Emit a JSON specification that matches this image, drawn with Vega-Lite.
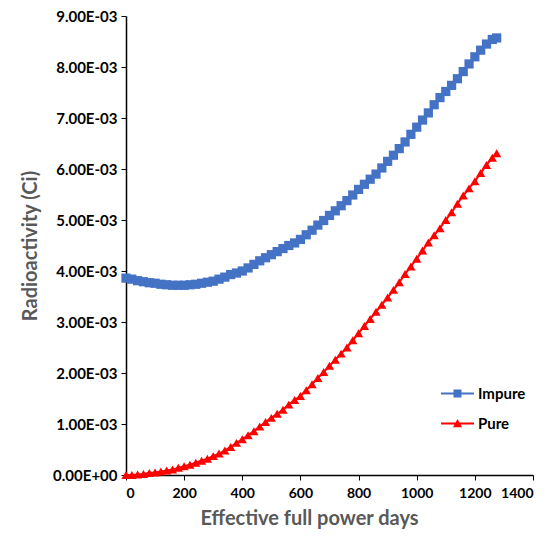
{
  "$schema": "https://vega.github.io/schema/vega-lite/v6.json",
  "width": 407,
  "height": 459,
  "autosize": {"type": "none"},
  "padding": {"left": 126, "top": 16, "right": 24, "bottom": 63},
  "config": {"view": {"stroke": null}, "font": "Lato"},
  "data": {
    "values": [
      {"day":0,"series":"Impure","value":0.00386},{"day":20,"series":"Impure","value":0.00384},{"day":40,"series":"Impure","value":0.00381},{"day":60,"series":"Impure","value":0.00379},{"day":80,"series":"Impure","value":0.00377},{"day":100,"series":"Impure","value":0.00376},{"day":120,"series":"Impure","value":0.00374},{"day":140,"series":"Impure","value":0.00373},{"day":160,"series":"Impure","value":0.00372},{"day":180,"series":"Impure","value":0.00372},{"day":200,"series":"Impure","value":0.00372},{"day":220,"series":"Impure","value":0.00373},{"day":240,"series":"Impure","value":0.00374},{"day":260,"series":"Impure","value":0.00376},{"day":280,"series":"Impure","value":0.00378},{"day":300,"series":"Impure","value":0.0038},{"day":320,"series":"Impure","value":0.00384},{"day":340,"series":"Impure","value":0.00388},{"day":360,"series":"Impure","value":0.00393},{"day":380,"series":"Impure","value":0.00396},{"day":400,"series":"Impure","value":0.004},{"day":420,"series":"Impure","value":0.00406},{"day":440,"series":"Impure","value":0.00413},{"day":460,"series":"Impure","value":0.0042},{"day":480,"series":"Impure","value":0.00426},{"day":500,"series":"Impure","value":0.00432},{"day":520,"series":"Impure","value":0.00438},{"day":540,"series":"Impure","value":0.00444},{"day":560,"series":"Impure","value":0.0045},{"day":580,"series":"Impure","value":0.00455},{"day":600,"series":"Impure","value":0.00462},{"day":620,"series":"Impure","value":0.00471},{"day":640,"series":"Impure","value":0.0048},{"day":660,"series":"Impure","value":0.0049},{"day":680,"series":"Impure","value":0.00499},{"day":700,"series":"Impure","value":0.00509},{"day":720,"series":"Impure","value":0.00518},{"day":740,"series":"Impure","value":0.00528},{"day":760,"series":"Impure","value":0.00538},{"day":780,"series":"Impure","value":0.00549},{"day":800,"series":"Impure","value":0.0056},{"day":820,"series":"Impure","value":0.0057},{"day":840,"series":"Impure","value":0.0058},{"day":860,"series":"Impure","value":0.0059},{"day":880,"series":"Impure","value":0.00602},{"day":900,"series":"Impure","value":0.00615},{"day":920,"series":"Impure","value":0.00627},{"day":940,"series":"Impure","value":0.0064},{"day":960,"series":"Impure","value":0.00653},{"day":980,"series":"Impure","value":0.00668},{"day":1000,"series":"Impure","value":0.00682},{"day":1020,"series":"Impure","value":0.00696},{"day":1040,"series":"Impure","value":0.0071},{"day":1060,"series":"Impure","value":0.00726},{"day":1080,"series":"Impure","value":0.0074},{"day":1100,"series":"Impure","value":0.00752},{"day":1120,"series":"Impure","value":0.00764},{"day":1140,"series":"Impure","value":0.00777},{"day":1160,"series":"Impure","value":0.00791},{"day":1180,"series":"Impure","value":0.00806},{"day":1200,"series":"Impure","value":0.0082},{"day":1220,"series":"Impure","value":0.00833},{"day":1240,"series":"Impure","value":0.00845},{"day":1260,"series":"Impure","value":0.00854},{"day":1275,"series":"Impure","value":0.00857},
      {"day":0,"series":"Pure","value":0.0},{"day":20,"series":"Pure","value":0.0},{"day":40,"series":"Pure","value":0.00001},{"day":60,"series":"Pure","value":0.00002},{"day":80,"series":"Pure","value":0.00004},{"day":100,"series":"Pure","value":0.00005},{"day":120,"series":"Pure","value":0.00007},{"day":140,"series":"Pure","value":0.00009},{"day":160,"series":"Pure","value":0.00011},{"day":180,"series":"Pure","value":0.00014},{"day":200,"series":"Pure","value":0.00017},{"day":220,"series":"Pure","value":0.0002},{"day":240,"series":"Pure","value":0.00024},{"day":260,"series":"Pure","value":0.00028},{"day":280,"series":"Pure","value":0.00032},{"day":300,"series":"Pure","value":0.00037},{"day":320,"series":"Pure","value":0.00042},{"day":340,"series":"Pure","value":0.00048},{"day":360,"series":"Pure","value":0.00055},{"day":380,"series":"Pure","value":0.00063},{"day":400,"series":"Pure","value":0.0007},{"day":420,"series":"Pure","value":0.00078},{"day":440,"series":"Pure","value":0.00086},{"day":460,"series":"Pure","value":0.00095},{"day":480,"series":"Pure","value":0.00104},{"day":500,"series":"Pure","value":0.00112},{"day":520,"series":"Pure","value":0.0012},{"day":540,"series":"Pure","value":0.00128},{"day":560,"series":"Pure","value":0.00138},{"day":580,"series":"Pure","value":0.00147},{"day":600,"series":"Pure","value":0.00155},{"day":620,"series":"Pure","value":0.00166},{"day":640,"series":"Pure","value":0.00178},{"day":660,"series":"Pure","value":0.0019},{"day":680,"series":"Pure","value":0.00202},{"day":700,"series":"Pure","value":0.00214},{"day":720,"series":"Pure","value":0.00226},{"day":740,"series":"Pure","value":0.00238},{"day":760,"series":"Pure","value":0.0025},{"day":780,"series":"Pure","value":0.00264},{"day":800,"series":"Pure","value":0.00278},{"day":820,"series":"Pure","value":0.00292},{"day":840,"series":"Pure","value":0.00306},{"day":860,"series":"Pure","value":0.0032},{"day":880,"series":"Pure","value":0.00334},{"day":900,"series":"Pure","value":0.00348},{"day":920,"series":"Pure","value":0.00363},{"day":940,"series":"Pure","value":0.00378},{"day":960,"series":"Pure","value":0.00394},{"day":980,"series":"Pure","value":0.00409},{"day":1000,"series":"Pure","value":0.00424},{"day":1020,"series":"Pure","value":0.0044},{"day":1040,"series":"Pure","value":0.00456},{"day":1060,"series":"Pure","value":0.0047},{"day":1080,"series":"Pure","value":0.00484},{"day":1100,"series":"Pure","value":0.005},{"day":1120,"series":"Pure","value":0.00515},{"day":1140,"series":"Pure","value":0.00532},{"day":1160,"series":"Pure","value":0.00548},{"day":1180,"series":"Pure","value":0.00562},{"day":1200,"series":"Pure","value":0.00576},{"day":1220,"series":"Pure","value":0.00592},{"day":1240,"series":"Pure","value":0.00608},{"day":1260,"series":"Pure","value":0.00622},{"day":1275,"series":"Pure","value":0.00631}
    ]
  },
  "encoding": {
    "x": {
      "field": "day", "type": "quantitative",
      "scale": {"domain": [0, 1400], "nice": false},
      "axis": {
        "title": "Effective full power days", "values": [0,200,400,600,800,1000,1200,1400], "format": "d",
        "grid": false, "domainColor": "black", "domainWidth": 1.5, "tickColor": "black", "tickSize": 5,
        "labelFontSize": 14, "labelFontWeight": "bold", "labelColor": "black", "labelPadding": 6,
        "titleFontSize": 20, "titleFontWeight": "bold", "titleColor": "#595959", "titlePadding": 8,
        "titleX": 183
      }
    },
    "y": {
      "field": "value", "type": "quantitative",
      "scale": {"domain": [0, 0.009], "nice": false},
      "axis": {
        "title": "Radioactivity (Ci)", "values": [0,0.001,0.002,0.003,0.004,0.005,0.006,0.007,0.008,0.009],
        "labelExpr": "datum.value == 0 ? '0.00E+00' : format(datum.value*1000, '.2f') + 'E-03'",
        "grid": false, "domainColor": "black", "domainWidth": 1.5, "tickColor": "black", "tickSize": 5,
        "labelFontSize": 15, "labelFontWeight": "bold", "labelColor": "black", "labelPadding": 4,
        "titleFontSize": 20, "titleFontWeight": "bold", "titleColor": "#595959", "titlePadding": 12
      }
    },
    "color": {
      "field": "series", "type": "nominal",
      "scale": {"domain": ["Impure", "Pure"], "range": ["#4472C4", "#FF0000"]},
      "legend": {
        "title": null, "orient": "none", "legendX": 324, "legendY": 370, "padding": 0,
        "symbolSize": 100, "labelOffset": 13, "rowPadding": 14,
        "labelFontSize": 15, "labelFontWeight": "bold", "labelColor": "black",
        "encode": {
          "symbols": {
            "update": {
              "shape": {"signal": "datum.value == 'Impure' ? 'M-3.3,-0.2H3.3V0.2H-3.3Z M-0.8,-0.8H0.8V0.8H-0.8Z' : 'M-3.3,-0.2H3.3V0.2H-3.3Z M0,-0.9L0.9,0.75H-0.9Z'"},
              "fill": {"signal": "datum.value == 'Impure' ? '#4472C4' : '#FF0000'"},
              "strokeWidth": {"value": 0},
              "opacity": {"value": 1}
            }
          }
        }
      }
    }
  },
  "layer": [
    {"mark": {"type": "line", "strokeWidth": 2}},
    {
      "transform": [{"filter": "datum.series == 'Impure'"}],
      "mark": {"type": "point", "filled": true, "opacity": 1, "size": 85, "shape": "square"}
    },
    {
      "transform": [{"filter": "datum.series == 'Pure'"}],
      "mark": {"type": "point", "filled": true, "opacity": 1, "size": 85, "shape": "triangle-up"}
    }
  ]
}
